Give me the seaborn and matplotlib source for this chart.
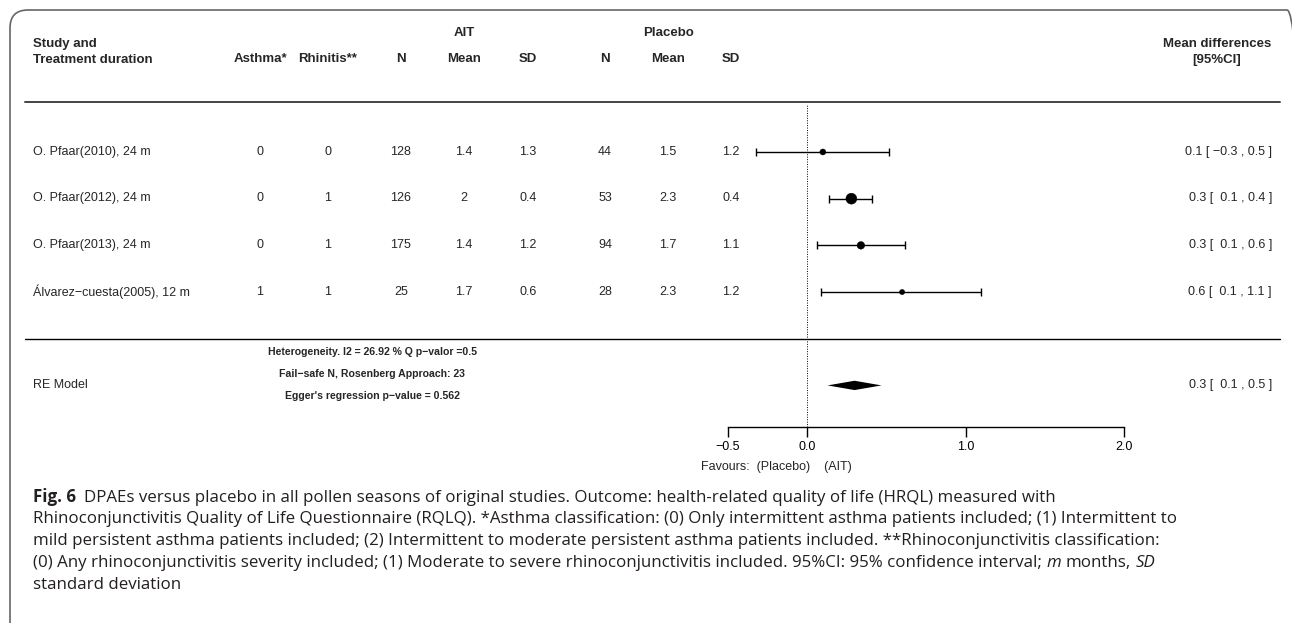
import numpy as np
import pandas as pd
import matplotlib
matplotlib.use("Agg")
import matplotlib.pyplot as plt
import seaborn as sns
from matplotlib.lines import Line2D
from matplotlib.patches import FancyBboxPatch
from matplotlib.offsetbox import TextArea, HPacker, AnnotationBbox

# ---- data ----
studies = ["O. Pfaar(2010), 24 m", "O. Pfaar(2012), 24 m",
           "O. Pfaar(2013), 24 m", "Álvarez\u2212cuesta(2005), 12 m"]
asthma = ["0", "0", "0", "1"]
rhinitis = ["0", "1", "1", "1"]
ait_n = ["128", "126", "175", "25"]
ait_mean = ["1.4", "2", "1.4", "1.7"]
ait_sd = ["1.3", "0.4", "1.2", "0.6"]
pla_n = ["44", "53", "94", "28"]
pla_mean = ["1.5", "2.3", "1.7", "2.3"]
pla_sd = ["1.2", "0.4", "1.1", "1.2"]
md = [0.10, 0.28, 0.34, 0.60]
ci_lo = [-0.32, 0.14, 0.06, 0.09]
ci_hi = [0.52, 0.41, 0.62, 1.10]
weight = [14, 52, 24, 10]
md_labels = ["0.1 [ \u22120.3 , 0.5 ]", "0.3 [  0.1 , 0.4 ]",
             "0.3 [  0.1 , 0.6 ]", "0.6 [  0.1 , 1.1 ]"]
re_est, re_lo, re_hi = 0.30, 0.13, 0.47
re_label = "0.3 [  0.1 , 0.5 ]"
xticks = [-0.5, 0.0, 1.0, 2.0]
xticklabels = ["\u22120.5", "0.0", "1.0", "2.0"]
stats = ["Heterogeneity. I2 = 26.92 % Q p\u2212valor =0.5",
         "Fail\u2212safe N, Rosenberg Approach: 23",
         "Egger's regression p\u2212value = 0.562"]

W, H = 1292, 623
sns.set_style("white")
plt.rcParams["font.family"] = ["Liberation Sans", "DejaVu Sans"]
fig = plt.figure(figsize=(W / 100, H / 100), dpi=100)

def put(x, y, s, **kw):
    kw.setdefault("fontsize", 9)
    kw.setdefault("va", "center")
    fig.text(x / W, 1 - y / H, s, **kw)

# frame (right and bottom edges fall outside the canvas)
frame = FancyBboxPatch((0.10, -0.3), 12.95, 6.43, boxstyle="round,pad=0,rounding_size=0.18",
                       transform=fig.dpi_scale_trans, fill=False, ec="#666666", lw=1.2)
fig.add_artist(frame)

# header
bold = dict(fontweight="bold", fontsize=9.5)
put(33, 44, "Study and", **bold)
put(33, 60, "Treatment duration", **bold)
cols = [260, 328, 401, 464, 528, 605, 668, 731]
heads = ["Asthma*", "Rhinitis**", "N", "Mean", "SD", "N", "Mean", "SD"]
for x, h in zip(cols, heads):
    put(x, 59, h, ha="center", **bold)
put(464, 33, "AIT", ha="center", **bold)
put(668, 33, "Placebo", ha="center", **bold)
put(1217, 44, "Mean differences", ha="center", **bold)
put(1217, 60, "[95%CI]", ha="center", **bold)

fig.add_artist(Line2D([25 / W, 1280 / W], [1 - 102 / H] * 2, color="#444444", lw=1.4))
fig.add_artist(Line2D([25 / W, 1280 / W], [1 - 339 / H] * 2, color="black", lw=1.0))

# study rows
row_y = [152, 198, 245, 292]
table = [asthma, rhinitis, ait_n, ait_mean, ait_sd, pla_n, pla_mean, pla_sd]
for i, y in enumerate(row_y):
    put(33, y, studies[i])
    for x, col in zip(cols, table):
        put(x, y, col[i], ha="center")
    put(1272, y, md_labels[i], ha="right")

put(33, 385, "RE Model")
put(1272, 385, re_label, ha="right")
for y, s in zip([352, 374, 396], stats):
    put(372, y, s, ha="center", fontsize=7.6, fontweight="bold")

# forest panel: x zero at px 807, 158.5 px per unit; rows 4..1, RE at -1
x0, ux = 807, 158.5
left_px, right_px = 700, 1150
top_px, bot_px = 104, 427
uy = 46.7
ax = fig.add_axes([left_px / W, 1 - bot_px / H, (right_px - left_px) / W, (bot_px - top_px) / H])
ax.set_xlim((left_px - x0) / ux, (right_px - x0) / ux)
ax.set_ylim(1 - (bot_px - 292) / uy, 4 + (152 - top_px) / uy)
ax.patch.set_alpha(0)

df = pd.DataFrame({"md": md, "lo": ci_lo, "hi": ci_hi, "weight": weight,
                   "row": [4, 3, 2, 1]})
ax.axvline(0, color="black", ls=(0, (1, 1.5)), lw=0.7)
ax.errorbar(df["md"], df["row"], xerr=[df["md"] - df["lo"], df["hi"] - df["md"]],
            fmt="none", ecolor="black", elinewidth=1.0, capsize=2.6, capthick=1.0)
sns.scatterplot(data=df, x="md", y="row", size="weight", sizes=(14, 62),
                color="black", edgecolor="black", legend=False, ax=ax, zorder=3)
h = 0.1
ax.fill([re_lo, re_est, re_hi, re_est], [-1, -1 + h, -1, -1 - h], color="black", lw=0)

for s in ["top", "right", "left"]:
    ax.spines[s].set_visible(False)
ax.spines["bottom"].set_bounds(-0.5, 2.0)
ax.spines["bottom"].set_linewidth(1.0)
ax.spines["bottom"].set_color("black")
ax.set_xticks(xticks)
ax.set_xticklabels(xticklabels)
ax.set_yticks([])
ax.tick_params(axis="x", bottom=True, direction="out", length=7, width=1.0,
               labelsize=9, pad=3, colors="black")
ax.set_xlabel("")
ax.set_ylabel("")
put(701, 467, "Favours:  (Placebo)    (AIT)")

# caption
cap_kw = dict(fontsize=12.2, family="Open Sans", color="#231f20")
caption = [
    ([("Fig. 6", "bold"), ("DPAEs versus placebo in all pollen seasons of original studies. Outcome: "
      "health-related quality of life (HRQL) measured with", "normal")], 6),
    ([("Rhinoconjunctivitis Quality of Life Questionnaire (RQLQ). *Asthma classification: "
       "(0) Only intermittent asthma patients included; (1) Intermittent to", "normal")], 0),
    ([("mild persistent asthma patients included; (2) Intermittent to moderate persistent "
       "asthma patients included. **Rhinoconjunctivitis classification:", "normal")], 0),
    ([("(0) Any rhinoconjunctivitis severity included; (1) Moderate to severe rhinoconjunctivitis "
       "included. 95%CI: 95% confidence interval;", "normal"), ("m", "italic"),
      ("months,", "normal"), ("SD", "italic")], 3.2),
    ([("standard deviation", "normal")], 0),
]
for k, (parts, sep) in enumerate(caption):
    kids = []
    for txt, st in parts:
        props = dict(cap_kw)
        if st == "bold":
            props["fontweight"] = "bold"
        elif st == "italic":
            props["fontstyle"] = "italic"
        kids.append(TextArea(txt, textprops=props))
    pack = HPacker(children=kids, sep=sep, pad=0, align="baseline")
    ab = AnnotationBbox(pack, (33, H - (497 + 22 * k)), xycoords="figure pixels",
                        box_alignment=(0, 0.5), frameon=False, pad=0)
    fig.add_artist(ab)

fig.savefig("out.png", dpi=100)
